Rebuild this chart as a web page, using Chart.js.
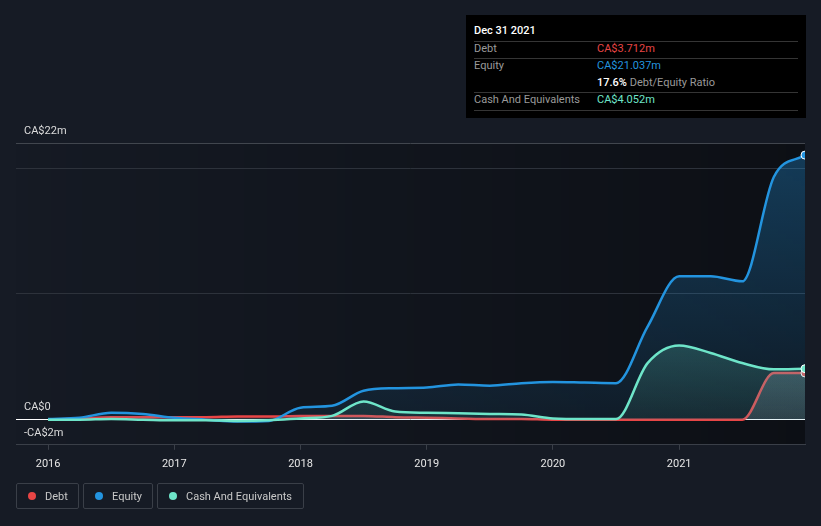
<!DOCTYPE html>
<html>
<head>
<meta charset="utf-8">
<script src="https://cdn.jsdelivr.net/npm/chart.js@4.4.1/dist/chart.umd.min.js"></script>
<style>
  html, body { margin: 0; padding: 0; background: #161b25; }
  body { width: 821px; height: 526px; overflow: hidden; font-family: Roboto, sans-serif; }
  #wrap { position: relative; width: 821px; height: 526px; }
  #canvas { position: absolute; left: 0; top: 0; }
  .tip { position: absolute; left: 466px; top: 15px; width: 340px; height: 103px; background: #000; font-size: 11px; }
  .tip .t { position: absolute; left: 8px; top: 9px; color: #fff; font-weight: 500; }
  .tip .sep { position: absolute; left: 8px; width: 324px; height: 1px; background: #353535; }
  .tip .row { position: absolute; left: 8px; width: 324px; height: 14px; line-height: 14px; }
  .tip .lab { position: absolute; left: 0; color: #9a9a9a; }
  .tip .val { position: absolute; left: 123px; }
  .legend { position: absolute; top: 483px; height: 26px; border: 1px solid #3a3f48; border-radius: 2px; font-size: 11px; color: #c8c8c8; line-height: 26px; box-sizing: border-box; }
  .legend .dot { position: absolute; left: 11px; top: 8px; width: 8px; height: 8px; border-radius: 50%; }
  .legend span { position: absolute; left: 28px; top: 0; white-space: nowrap; }
</style>
</head>
<body>
<div id="wrap">
  <canvas id="canvas" width="821" height="526"></canvas>
  <div class="tip">
    <div class="t">Dec 31 2021</div>
    <div class="sep" style="top:26px"></div>
    <div class="row" style="top:27px"><span class="lab">Debt</span><span class="val" style="color:#e84545">CA$3.712m</span></div>
    <div class="sep" style="top:43px"></div>
    <div class="row" style="top:44px"><span class="lab">Equity</span><span class="val" style="color:#2394df">CA$21.037m</span></div>
    <div class="row" style="top:61px"><span class="val" style="color:#fff;font-weight:500">17.6% <span style="color:#9a9a9a;font-weight:400">Debt/Equity Ratio</span></span></div>
    <div class="sep" style="top:77px"></div>
    <div class="row" style="top:78px"><span class="lab">Cash And Equivalents</span><span class="val" style="color:#6ee5c9">CA$4.052m</span></div>
    <div class="sep" style="top:95px"></div>
  </div>
  <div class="legend" style="left:16px;width:63px"><div class="dot" style="background:#e84545"></div><span>Debt</span></div>
  <div class="legend" style="left:83px;width:70px"><div class="dot" style="background:#2394df"></div><span>Equity</span></div>
  <div class="legend" style="left:157px;width:147px"><div class="dot" style="background:#6ee5c9"></div><span>Cash And Equivalents</span></div>
</div>
<script>
document.addEventListener('DOMContentLoaded', () => {
  // quarter ends as decimal years
  const dates = [2016.0, 2016.25, 2016.5, 2016.75, 2017.0, 2017.25, 2017.5, 2017.75,
    2018.0, 2018.25, 2018.5, 2018.75, 2019.0, 2019.25, 2019.5, 2019.75,
    2020.0, 2020.25, 2020.5, 2020.75, 2021.0, 2021.25, 2021.5, 2021.75, 2021.997];

  const debt = [0.0, 0.1, 0.2, 0.2, 0.2, 0.2, 0.25, 0.25, 0.3, 0.3, 0.3, 0.2,
    0.15, 0.1, 0.05, 0.05, 0, 0, 0, 0, 0, 0, 0, 3.7, 3.712];
  const equity = [0.05, 0.15, 0.55, 0.45, 0.15, 0.0, -0.15, -0.1, 0.95, 1.1, 2.3, 2.5,
    2.55, 2.8, 2.7, 2.9, 3.0, 2.95, 2.9, 7.4, 11.4, 11.4, 11.0, 19.3, 21.037];
  const cash = [0.0, 0.0, 0.05, 0.0, -0.05, -0.05, -0.1, -0.05, 0.1, 0.3, 1.45, 0.65,
    0.55, 0.5, 0.45, 0.4, 0.1, 0.05, 0.05, 4.5, 5.9, 5.3, 4.5, 4.0, 4.052];

  const xTicks = [2016, 2017, 2018, 2019, 2020, 2021];
  const xTickLabels = ['2016', '2017', '2018', '2019', '2020', '2021'];
  const yTicks = [-2, 0, 10, 20, 22];
  const yTickLabels = ['-CA$2m', 'CA$0', '', '', 'CA$22m'];

  const toPoints = (vals) => vals.map((v, i) => ({ x: dates[i], y: v }));

  const vGrad = (top, bottom) => (ctx) => {
    const chart = ctx.chart;
    const area = chart.chartArea;
    if (!area) return top;
    const y0 = chart.scales.y.getPixelForValue(0);
    const g = chart.ctx.createLinearGradient(0, area.top, 0, y0);
    g.addColorStop(0, top);
    g.addColorStop(1, bottom);
    return g;
  };

  const lastDot = (ctx) => (ctx.dataIndex === ctx.dataset.data.length - 1 ? 4 : 0);

  const plotShade = {
    id: 'plotShade',
    beforeDraw(chart) {
      const { ctx, chartArea: a } = chart;
      const g = ctx.createLinearGradient(a.left, 0, a.right, 0);
      g.addColorStop(0, 'rgba(0,0,0,0.02)');
      g.addColorStop(1, 'rgba(0,0,0,0.42)');
      ctx.save();
      ctx.fillStyle = g;
      ctx.fillRect(a.left, a.top, a.width, a.height);
      ctx.restore();
    },
  };

  const line = (label, vals, color, fillTop, fillBottom) => ({
    label,
    data: toPoints(vals),
    borderColor: color,
    backgroundColor: vGrad(fillTop, fillBottom),
    borderWidth: 2.5,
    fill: 'origin',
    cubicInterpolationMode: 'monotone',
    pointRadius: lastDot,
    pointBackgroundColor: color,
    pointBorderColor: '#ffffff',
    pointBorderWidth: 1,
    pointHoverRadius: 0,
  });

  const config = {
    type: 'line',
    data: {
      datasets: [
        line('Cash And Equivalents', cash, '#6ee5c9', 'rgba(110,229,201,0.5)', 'rgba(110,229,201,0.08)'),
        line('Equity', equity, '#2394df', 'rgba(35,148,223,0.34)', 'rgba(35,148,223,0.08)'),
        line('Debt', debt, '#e84545', 'rgba(200,205,215,0.5)', 'rgba(200,205,215,0.15)'),
      ],
    },
    options: {
      responsive: false,
      animation: false,
      events: [],
      layout: { padding: { left: 0, right: 16, top: 143, bottom: 47 } },
      plugins: {
        legend: { display: false },
        tooltip: { enabled: false },
      },
      scales: {
        x: {
          type: 'linear',
          min: 2015.746,
          max: 2021.997,
          afterBuildTicks: (s) => { s.ticks = xTicks.map((v) => ({ value: v })); },
          ticks: {
            color: '#e6e6e6',
            padding: 8,
            maxRotation: 0,
            autoSkip: false,
            font: { family: 'Roboto', size: 11 },
            callback: (v, i) => xTickLabels[i],
          },
          grid: { drawOnChartArea: false, drawTicks: true, tickLength: 5, color: '#3a3f48' },
          border: { color: '#3a3f48', width: 1 },
        },
        y: {
          min: -2,
          max: 22,
          afterBuildTicks: (s) => { s.ticks = yTicks.map((v) => ({ value: v })); },
          ticks: {
            mirror: true,
            padding: 8,
            labelOffset: -12,
            color: '#dcdcdc',
            autoSkip: false,
            font: { family: 'Roboto', size: 11 },
            callback: (v, i) => yTickLabels[i],
          },
          grid: {
            drawTicks: false,
            color: (ctx) => {
              const v = ctx.tick && ctx.tick.value;
              if (v === 0) return '#ffffff';
              if (v === 22) return '#41464e';
              if (v === -2) return 'rgba(0,0,0,0)';
              return '#2d323b';
            },
          },
          border: { display: false },
        },
      },
    },
    plugins: [plotShade],
  };

  const ctx = document.getElementById('canvas').getContext('2d');
  window.myLine = new Chart(ctx, config);
});
</script>
</body>
</html>
